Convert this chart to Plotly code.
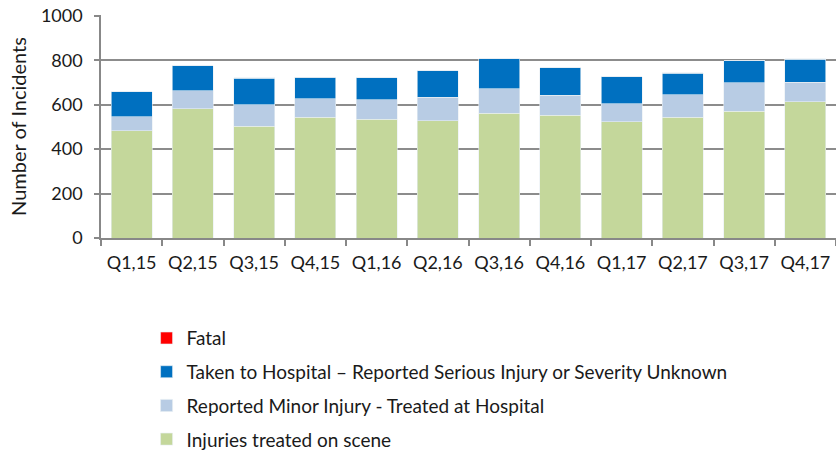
import plotly.graph_objects as go

categories = ["Q1,15", "Q2,15", "Q3,15", "Q4,15", "Q1,16", "Q2,16",
              "Q3,16", "Q4,16", "Q1,17", "Q2,17", "Q3,17", "Q4,17"]
scene = [484, 582, 504, 543, 534, 529, 561, 553, 523, 544, 570, 614]
minor = [63, 82, 96, 84, 88, 105, 111, 90, 82, 101, 128, 87]
serious = [112, 112, 120, 97, 99, 119, 136, 123, 121, 97, 99, 104]
fatal = [0, 0, 2, 0, 0, 0, 0, 0, 0, 2, 1, 1]
y_ticks = [0, 200, 400, 600, 800, 1000]

series = [
    ("Injuries treated on scene", scene, "#C4D79B", 4),
    ("Reported Minor Injury - Treated at Hospital", minor, "#B8CCE4", 3),
    ("Taken to Hospital \u2013 Reported Serious Injury or Severity Unknown", serious, "#0070C0", 2),
    ("Fatal", fatal, "#FF0000", 1),
]

fig = go.Figure()
for name, vals, col, rank in series:
    fig.add_trace(go.Bar(x=categories, y=vals, name=name, legendgroup=name,
                         legendrank=rank,
                         marker=dict(color=col, line=dict(color="#E8EEF4", width=0.6))))

font_family = "Lato, 'Open Sans', sans-serif"
fig.update_layout(
    width=836, height=454,
    barmode="stack", bargap=0.33,
    plot_bgcolor="white", paper_bgcolor="white",
    margin=dict(l=101, r=0, t=15, b=216),
    font=dict(family=font_family, size=18, color="#1a1a1a"),
    showlegend=True,
    legend=dict(traceorder="grouped", tracegroupgap=6, x=0.062, y=0.297,
                yref="container", xanchor="left", yanchor="top", font=dict(size=19),
                itemwidth=30),
    xaxis=dict(showline=True, linecolor="#888", linewidth=1.5, ticks="outside",
               tickson="boundaries", ticklen=6, tickcolor="#888", tickwidth=1.5,
               tickfont=dict(size=18), showgrid=False, ticklabelstandoff=8),
    yaxis=dict(range=[0, 1004], tickvals=y_ticks, showgrid=True, gridcolor="#8c8c8c",
               gridwidth=1.5, showline=True, linecolor="#888", linewidth=1.5,
               ticks="outside", ticklen=5, tickcolor="#888", tickwidth=1.5,
               tickfont=dict(size=18), zeroline=False, ticklabelstandoff=8,
               title=dict(text="Number of Incidents", font=dict(size=20), standoff=9)),
)
fig.write_html("out.html", config={"displayModeBar": False},
               post_script="document.body.style.margin='0';document.body.style.overflow='hidden';")
